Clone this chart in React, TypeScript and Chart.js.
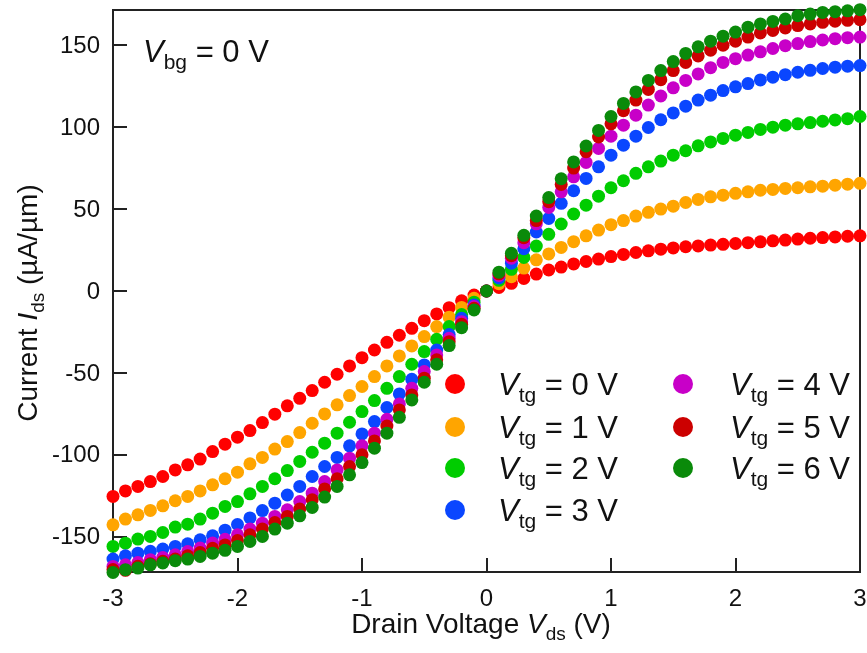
import React, { useEffect, useRef } from "react";
import { Chart, registerables } from "chart.js";

Chart.register(...registerables);

const VDS = [
  -3.0, -2.9, -2.8, -2.7, -2.6, -2.5, -2.4, -2.3, -2.2, -2.1,
  -2.0, -1.9, -1.8, -1.7, -1.6, -1.5, -1.4, -1.3, -1.2, -1.1,
  -1.0, -0.9, -0.8, -0.7, -0.6, -0.5, -0.4, -0.3, -0.2, -0.1,
  0.0,
  0.1, 0.2, 0.3, 0.4, 0.5, 0.6, 0.7, 0.8, 0.9, 1.0,
  1.1, 1.2, 1.3, 1.4, 1.5, 1.6, 1.7, 1.8, 1.9, 2.0,
  2.1, 2.2, 2.3, 2.4, 2.5, 2.6, 2.7, 2.8, 2.9, 3.0,
];

const IDS_VTG0 = [
  -125.4, -122, -119.3, -116.3, -113.2, -109.2, -106.1, -102.6, -98, -93.5,
  -89.2, -85.2, -80.3, -75.2, -70.1, -65.5, -60.8, -55.7, -50.8, -45.7,
  -40.7, -36, -31.3, -27, -22.8, -18.1, -14, -10.2, -6, -2.5,
  0,
  2.2, 4.7, 7.7, 10.3, 12.8, 14.6, 16.5, 18, 19.5, 21,
  22.3, 23.5, 24.5, 25.5, 26.3, 27, 27.5, 28, 28.5, 29,
  29.5, 30, 30.6, 31.1, 31.7, 32.2, 32.6, 33, 33.4, 33.7,
];

const IDS_VTG1 = [
  -142.7, -139.2, -136.6, -133.9, -131.1, -128, -125.4, -122, -118.3, -114.6,
  -110.6, -105.5, -101.6, -96.5, -91.9, -86.4, -80.7, -75, -69.5, -63.8,
  -58.3, -52.2, -45.7, -39.6, -33.5, -27.8, -21.7, -16, -10, -4.5,
  0,
  4.5, 8.7, 14, 19, 22.6, 26.6, 30.1, 33.7, 37.2, 40.5,
  43, 45.7, 48, 50, 51.8, 54, 55.9, 57.5, 58.5, 59.6,
  60.5, 61.5, 62, 62.6, 63, 63.6, 64, 64.6, 65.2, 65.7,
];

const IDS_VTG2 = [
  -155.9, -153.9, -151.4, -149.8, -147.4, -144.1, -142.3, -139.2, -135.6, -131.5,
  -128.5, -123.8, -119.3, -114.6, -109.6, -104, -98.4, -92.9, -86.8, -80.1,
  -73.6, -66.9, -59.4, -52.2, -44.7, -37, -29.5, -21.7, -14.4, -6.8,
  0,
  6.5, 13.2, 20.5, 27.4, 34.6, 40.9, 47, 52.4, 57.9, 63,
  67.3, 71.8, 75.8, 79.3, 82.9, 85.6, 88.6, 91, 93.1, 95.1,
  96.8, 98.6, 100, 101.2, 102, 102.8, 103.6, 104.4, 105.2, 106.5,
];

const IDS_VTG3 = [
  -163.6, -161.6, -160, -158.9, -157.5, -155.9, -154.3, -151.8, -149.4, -146,
  -142.5, -138.5, -134, -129.5, -124.5, -119.3, -113.2, -107.1, -101.6, -94.5,
  -87.2, -79.7, -71.1, -62.8, -53.9, -45.1, -36, -26.6, -16.7, -8.5,
  0,
  8, 17, 25.8, 36, 44.3, 53.5, 61.2, 68.7, 75.8, 82.9,
  89, 94.5, 99.8, 104.5, 108.7, 112.8, 116.5, 119.5, 122.3, 124.6,
  126.6, 128.8, 130.5, 132, 133.5, 134.7, 135.8, 136.6, 137.2, 137.6,
];

const IDS_VTG4 = [
  -168.1, -167.1, -165.7, -164, -162.6, -161, -159, -156.9, -153.8, -151.5,
  -148.8, -145.3, -141.7, -137.6, -133.5, -128.5, -123.4, -116.3, -109.2, -102,
  -94.5, -86.8, -78.3, -68.9, -59.4, -49.2, -39, -28.9, -18.7, -9.5,
  0,
  9.5, 20, 29.5, 41, 51, 60.5, 69.7, 78.5, 87, 94.5,
  101.2, 107.3, 113.5, 119, 124, 128.5, 132.5, 136.3, 139.5, 141.8,
  144, 146, 148, 149.7, 151, 152.2, 153.2, 154, 154.6, 155,
];

const IDS_VTG5 = [
  -170, -170.5, -168, -166.5, -165, -163.6, -161.6, -159.6, -157, -155,
  -152.3, -148.8, -145.3, -141.3, -137.6, -133.1, -127.4, -120.8, -114.6, -107.1,
  -100, -91.5, -82.4, -72.6, -63.4, -53.2, -42, -30.9, -20.3, -10.6,
  0,
  10.5, 21.5, 32.5, 43, 54.5, 65, 75, 85, 94, 102,
  110, 116.5, 123, 129, 134.5, 139.5, 143.5, 147, 150, 152.5,
  155, 157.5, 159, 160.5, 162, 163, 164, 164.7, 165.2, 165.6,
];

const IDS_VTG6 = [
  -171.8, -170.1, -169.1, -167.1, -166, -164.6, -163.6, -162, -160, -158.3,
  -155.9, -152.9, -149.8, -145.3, -141.7, -137.2, -132.1, -125.8, -119.3, -112.2,
  -104.7, -95.9, -86.8, -77.1, -66.5, -55.7, -44.7, -33.3, -22.4, -11.6,
  0,
  11.5, 23, 34, 45.7, 57, 68.5, 78.8, 88.5, 98, 106.5,
  114.5, 121.5, 128.5, 134.5, 140, 145, 149, 152.5, 155.5, 158,
  161, 163, 164.5, 166, 168, 169, 170, 170.5, 171, 171.7,
];

const SERIES = [IDS_VTG0, IDS_VTG1, IDS_VTG2, IDS_VTG3, IDS_VTG4, IDS_VTG5, IDS_VTG6];
const VTG_LABELS = ["0", "1", "2", "3", "4", "5", "6"];
const COLORS = ["#ff0000", "#ffa500", "#00cc00", "#0a46ff", "#c800c8", "#cc0000", "#0a8a0a"];

const X_TICKS = [-3, -2, -1, 0, 1, 2, 3];
const Y_TICKS = [-150, -100, -50, 0, 50, 100, 150];

const FONT = '"Liberation Sans", Arial, Helvetica, sans-serif';

type Part = { t: string; it?: boolean; sub?: boolean };

function drawRich(ctx: CanvasRenderingContext2D, parts: Part[], x: number, y: number, size: number, align: "left" | "center") {
  const subSize = Math.round(size * 0.68);
  const fontOf = (p: Part) => `${p.it ? "italic " : ""}${p.sub ? subSize : size}px ${FONT}`;
  let total = 0;
  const widths = parts.map((p) => {
    ctx.font = fontOf(p);
    const w = ctx.measureText(p.t).width;
    total += w;
    return w;
  });
  let cx = align === "center" ? x - total / 2 : x;
  ctx.textBaseline = "alphabetic";
  ctx.textAlign = "left";
  parts.forEach((p, i) => {
    ctx.font = fontOf(p);
    ctx.fillText(p.t, cx, p.sub ? y + size * 0.24 : y);
    cx += widths[i];
  });
}

const framePlugin = {
  id: "frameTicks",
  beforeDatasetsDraw(chart: any) {
    const { ctx, chartArea } = chart;
    const { left, right, top, bottom } = chartArea;
    const xs = chart.scales.x;
    const ys = chart.scales.y;
    ctx.save();
    ctx.strokeStyle = "#222";
    ctx.lineWidth = 2;
    ctx.strokeRect(left, top, right - left, bottom - top);
    ctx.beginPath();
    Y_TICKS.forEach((v) => {
      const py = Math.round(ys.getPixelForValue(v));
      ctx.moveTo(left, py);
      ctx.lineTo(left + 14, py);
    });
    X_TICKS.forEach((v) => {
      const px = Math.round(xs.getPixelForValue(v));
      ctx.moveTo(px, bottom);
      ctx.lineTo(px, bottom - 14);
    });
    ctx.stroke();

    // tick labels
    ctx.fillStyle = "#111";
    ctx.font = `24px ${FONT}`;
    ctx.textAlign = "right";
    ctx.textBaseline = "middle";
    Y_TICKS.forEach((v) => {
      ctx.fillText(String(v), left - 13, ys.getPixelForValue(v) + 1);
    });
    ctx.textAlign = "center";
    X_TICKS.forEach((v) => {
      ctx.fillText(String(v), xs.getPixelForValue(v), bottom + 27);
    });
    ctx.restore();
  },
};

const textPlugin = {
  id: "richText",
  afterDraw(chart: any) {
    const { ctx } = chart;
    ctx.save();
    ctx.fillStyle = "#111";
    drawRich(ctx, [{ t: "V", it: true }, { t: "bg", sub: true }, { t: " = 0 V" }], 143, 62, 31, "left");
    const rows = [384, 427, 468, 510];
    for (let i = 0; i < SERIES.length; i++) {
      const col = i < 4 ? 0 : 1;
      const row = i < 4 ? i : i - 4;
      const mx = col ? 683 : 455;
      const tx = col ? 730 : 498;
      const cy = rows[row];
      ctx.beginPath();
      ctx.fillStyle = COLORS[i];
      ctx.arc(mx, cy, 10, 0, Math.PI * 2);
      ctx.fill();
      ctx.fillStyle = "#111";
      drawRich(ctx, [{ t: "V", it: true }, { t: "tg", sub: true }, { t: ` = ${VTG_LABELS[i]} V` }], tx, cy + 11, 31, "left");
    }
    drawRich(ctx, [{ t: "Drain Voltage " }, { t: "V", it: true }, { t: "ds", sub: true }, { t: " (V)" }], 481, 633, 28, "center");
    ctx.translate(37, 303);
    ctx.rotate(-Math.PI / 2);
    drawRich(ctx, [{ t: "Current " }, { t: "I", it: true }, { t: "ds", sub: true }, { t: " (\u00b5A/\u00b5m)" }], 0, 0, 28, "center");
    ctx.restore();
  },
};

export default function App() {
  const ref = useRef<HTMLCanvasElement | null>(null);

  useEffect(() => {
    document.body.style.margin = "0";
    if (!ref.current) return;
    const datasets = SERIES.map((s, i) => ({
      label: `Vtg = ${VTG_LABELS[i]} V`,
      data: VDS.map((x, j) => ({ x, y: s[j] })),
      backgroundColor: COLORS[i],
      borderColor: COLORS[i],
      pointRadius: 6.5,
      pointHoverRadius: 6.5,
      pointBorderWidth: 0,
      showLine: false,
      clip: false as any,
      order: SERIES.length - i,
    }));
    const chart = new Chart(ref.current, {
      type: "scatter",
      data: { datasets },
      options: {
        animation: false,
        responsive: false,
        devicePixelRatio: 1,
        events: [],
        layout: { padding: { top: 10, right: 7, bottom: 0, left: 0 } },
        plugins: { legend: { display: false }, tooltip: { enabled: false } },
        scales: {
          x: {
            type: "linear",
            min: -3,
            max: 3,
            grid: { display: false, drawTicks: false },
            border: { display: false },
            afterBuildTicks: (scale: any) => {
              scale.ticks = X_TICKS.map((v) => ({ value: v }));
            },
            afterFit: (scale: any) => {
              scale.height = 81;
            },
            ticks: { display: false },
          },
          y: {
            type: "linear",
            min: -171.5,
            max: 171.5,
            grid: { display: false, drawTicks: false },
            border: { display: false },
            afterBuildTicks: (scale: any) => {
              scale.ticks = Y_TICKS.map((v) => ({ value: v }));
            },
            afterFit: (scale: any) => {
              scale.width = 113;
            },
            ticks: { display: false },
          },
        },
      },
      plugins: [framePlugin, textPlugin],
    });
    return () => chart.destroy();
  }, []);

  return (
    <div style={{ width: 867, height: 653, background: "#fff" }}>
      <canvas ref={ref} width={867} height={653} style={{ display: "block" }} />
    </div>
  );
}
